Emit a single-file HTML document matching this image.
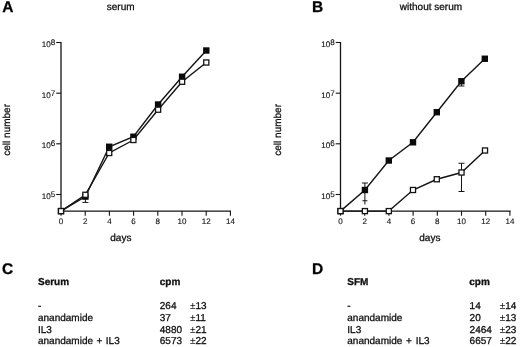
<!DOCTYPE html>
<html><head><meta charset="utf-8"><title>Figure</title>
<style>
html,body{margin:0;padding:0;background:#fff;}
body{width:520px;height:347px;overflow:hidden;font-family:"Liberation Sans",sans-serif;}
svg{display:block;filter:blur(0.28px);}
svg text{font-family:"Liberation Sans",sans-serif;fill:#111;stroke:#111;stroke-width:0.3px;text-rendering:geometricPrecision;}
</style></head>
<body>
<svg width="520" height="347" viewBox="0 0 520 347">
<rect x="0" y="0" width="520" height="347" fill="#ffffff"/>
<line x1="61.00" y1="42.00" x2="61.00" y2="211.70" stroke="#141414" stroke-width="1.3"/>
<line x1="60.40" y1="211.10" x2="231.00" y2="211.10" stroke="#141414" stroke-width="1.3"/>
<line x1="56.20" y1="42.50" x2="61.00" y2="42.50" stroke="#141414" stroke-width="1.1"/>
<line x1="56.20" y1="93.20" x2="61.00" y2="93.20" stroke="#141414" stroke-width="1.1"/>
<line x1="56.20" y1="143.80" x2="61.00" y2="143.80" stroke="#141414" stroke-width="1.1"/>
<line x1="56.20" y1="194.50" x2="61.00" y2="194.50" stroke="#141414" stroke-width="1.1"/>
<line x1="61.00" y1="211.10" x2="61.00" y2="215.70" stroke="#141414" stroke-width="1.1"/>
<line x1="85.20" y1="211.10" x2="85.20" y2="215.70" stroke="#141414" stroke-width="1.1"/>
<line x1="109.40" y1="211.10" x2="109.40" y2="215.70" stroke="#141414" stroke-width="1.1"/>
<line x1="133.60" y1="211.10" x2="133.60" y2="215.70" stroke="#141414" stroke-width="1.1"/>
<line x1="157.80" y1="211.10" x2="157.80" y2="215.70" stroke="#141414" stroke-width="1.1"/>
<line x1="182.00" y1="211.10" x2="182.00" y2="215.70" stroke="#141414" stroke-width="1.1"/>
<line x1="206.20" y1="211.10" x2="206.20" y2="215.70" stroke="#141414" stroke-width="1.1"/>
<line x1="230.40" y1="211.10" x2="230.40" y2="215.70" stroke="#141414" stroke-width="1.1"/>
<line x1="340.50" y1="42.00" x2="340.50" y2="211.70" stroke="#141414" stroke-width="1.3"/>
<line x1="339.90" y1="211.10" x2="510.50" y2="211.10" stroke="#141414" stroke-width="1.3"/>
<line x1="335.70" y1="42.50" x2="340.50" y2="42.50" stroke="#141414" stroke-width="1.1"/>
<line x1="335.70" y1="93.20" x2="340.50" y2="93.20" stroke="#141414" stroke-width="1.1"/>
<line x1="335.70" y1="143.80" x2="340.50" y2="143.80" stroke="#141414" stroke-width="1.1"/>
<line x1="335.70" y1="194.50" x2="340.50" y2="194.50" stroke="#141414" stroke-width="1.1"/>
<line x1="340.50" y1="211.10" x2="340.50" y2="215.70" stroke="#141414" stroke-width="1.1"/>
<line x1="364.70" y1="211.10" x2="364.70" y2="215.70" stroke="#141414" stroke-width="1.1"/>
<line x1="388.90" y1="211.10" x2="388.90" y2="215.70" stroke="#141414" stroke-width="1.1"/>
<line x1="413.10" y1="211.10" x2="413.10" y2="215.70" stroke="#141414" stroke-width="1.1"/>
<line x1="437.30" y1="211.10" x2="437.30" y2="215.70" stroke="#141414" stroke-width="1.1"/>
<line x1="461.50" y1="211.10" x2="461.50" y2="215.70" stroke="#141414" stroke-width="1.1"/>
<line x1="485.70" y1="211.10" x2="485.70" y2="215.70" stroke="#141414" stroke-width="1.1"/>
<line x1="509.90" y1="211.10" x2="509.90" y2="215.70" stroke="#141414" stroke-width="1.1"/>
<line x1="85.40" y1="196.60" x2="85.40" y2="202.40" stroke="#141414" stroke-width="1.0"/>
<line x1="82.40" y1="202.40" x2="88.40" y2="202.40" stroke="#141414" stroke-width="1.0"/>
<polyline points="61.00,211.10 85.40,196.60 109.20,146.75 133.40,136.75 158.10,104.50 182.10,76.75 206.30,50.50" fill="none" stroke="#141414" stroke-width="1.4"/>
<polyline points="61.00,211.10 85.40,194.80 109.20,153.00 133.40,140.00 158.10,109.70 182.10,81.75 206.30,62.50" fill="none" stroke="#141414" stroke-width="1.4"/>
<rect x="57.80" y="207.90" width="6.4" height="6.4" fill="#0a0a0a"/>
<rect x="82.20" y="193.40" width="6.4" height="6.4" fill="#0a0a0a"/>
<rect x="106.00" y="143.55" width="6.4" height="6.4" fill="#0a0a0a"/>
<rect x="130.20" y="133.55" width="6.4" height="6.4" fill="#0a0a0a"/>
<rect x="154.90" y="101.30" width="6.4" height="6.4" fill="#0a0a0a"/>
<rect x="178.90" y="73.55" width="6.4" height="6.4" fill="#0a0a0a"/>
<rect x="203.10" y="47.30" width="6.4" height="6.4" fill="#0a0a0a"/>
<rect x="58.45" y="208.55" width="5.1" height="5.1" fill="#fff" stroke="#141414" stroke-width="1.3"/>
<rect x="82.85" y="192.25" width="5.1" height="5.1" fill="#fff" stroke="#141414" stroke-width="1.3"/>
<rect x="106.65" y="150.45" width="5.1" height="5.1" fill="#fff" stroke="#141414" stroke-width="1.3"/>
<rect x="130.85" y="137.45" width="5.1" height="5.1" fill="#fff" stroke="#141414" stroke-width="1.3"/>
<rect x="155.55" y="107.15" width="5.1" height="5.1" fill="#fff" stroke="#141414" stroke-width="1.3"/>
<rect x="179.55" y="79.20" width="5.1" height="5.1" fill="#fff" stroke="#141414" stroke-width="1.3"/>
<rect x="203.75" y="59.95" width="5.1" height="5.1" fill="#fff" stroke="#141414" stroke-width="1.3"/>
<line x1="364.90" y1="183.00" x2="364.90" y2="190.00" stroke="#141414" stroke-width="1.0"/>
<line x1="361.90" y1="183.00" x2="367.90" y2="183.00" stroke="#141414" stroke-width="1.0"/>
<line x1="364.90" y1="190.00" x2="364.90" y2="204.50" stroke="#141414" stroke-width="1.0"/>
<line x1="362.40" y1="200.75" x2="367.40" y2="200.75" stroke="#141414" stroke-width="1.0"/>
<line x1="461.40" y1="81.25" x2="461.40" y2="86.00" stroke="#141414" stroke-width="1.0"/>
<line x1="458.40" y1="86.00" x2="464.40" y2="86.00" stroke="#141414" stroke-width="1.0"/>
<line x1="461.50" y1="163.25" x2="461.50" y2="191.50" stroke="#141414" stroke-width="1.0"/>
<line x1="458.50" y1="163.25" x2="464.50" y2="163.25" stroke="#141414" stroke-width="1.0"/>
<line x1="458.50" y1="191.50" x2="464.50" y2="191.50" stroke="#141414" stroke-width="1.0"/>
<polyline points="340.50,211.10 364.90,190.00 388.80,160.50 413.00,142.30 436.80,112.20 461.40,81.25 484.80,58.75" fill="none" stroke="#141414" stroke-width="1.4"/>
<polyline points="340.50,211.10 364.90,211.10 388.80,211.10 413.00,190.00 436.80,179.25 461.50,172.50 485.00,150.50" fill="none" stroke="#141414" stroke-width="1.4"/>
<rect x="337.30" y="207.90" width="6.4" height="6.4" fill="#0a0a0a"/>
<rect x="361.70" y="186.80" width="6.4" height="6.4" fill="#0a0a0a"/>
<rect x="385.60" y="157.30" width="6.4" height="6.4" fill="#0a0a0a"/>
<rect x="409.80" y="139.10" width="6.4" height="6.4" fill="#0a0a0a"/>
<rect x="433.60" y="109.00" width="6.4" height="6.4" fill="#0a0a0a"/>
<rect x="458.20" y="78.05" width="6.4" height="6.4" fill="#0a0a0a"/>
<rect x="481.60" y="55.55" width="6.4" height="6.4" fill="#0a0a0a"/>
<rect x="337.95" y="208.55" width="5.1" height="5.1" fill="#fff" stroke="#141414" stroke-width="1.3"/>
<rect x="362.35" y="208.55" width="5.1" height="5.1" fill="#fff" stroke="#141414" stroke-width="1.3"/>
<rect x="386.25" y="208.55" width="5.1" height="5.1" fill="#fff" stroke="#141414" stroke-width="1.3"/>
<rect x="410.45" y="187.45" width="5.1" height="5.1" fill="#fff" stroke="#141414" stroke-width="1.3"/>
<rect x="434.25" y="176.70" width="5.1" height="5.1" fill="#fff" stroke="#141414" stroke-width="1.3"/>
<rect x="458.95" y="169.95" width="5.1" height="5.1" fill="#fff" stroke="#141414" stroke-width="1.3"/>
<rect x="482.45" y="147.95" width="5.1" height="5.1" fill="#fff" stroke="#141414" stroke-width="1.3"/>
<text x="2.3" y="12.15" font-size="15.5" font-weight="bold" stroke="#000" stroke-width="0.35" style="fill:#000">A</text>
<text x="311.9" y="12.15" font-size="15.5" font-weight="bold" stroke="#000" stroke-width="0.35" style="fill:#000">B</text>
<text x="1.9" y="274.2" font-size="15.5" font-weight="bold" stroke="#000" stroke-width="0.35" style="fill:#000">C</text>
<text x="311.9" y="274.2" font-size="15.5" font-weight="bold" stroke="#000" stroke-width="0.35" style="fill:#000">D</text>
<text x="106.8" y="10.1" font-size="10" font-weight="normal" text-anchor="start" >serum</text>
<text x="399.8" y="10.1" font-size="10" font-weight="normal" text-anchor="start" >without serum</text>
<text x="110.3" y="240.8" font-size="10" font-weight="normal" text-anchor="start" >days</text>
<text x="419.3" y="240.8" font-size="10" font-weight="normal" text-anchor="start" >days</text>
<text transform="translate(9.8,155.7) rotate(-90)" font-size="10">cell number</text>
<text transform="translate(281.0,155.7) rotate(-90)" font-size="10">cell number</text>
<text x="41.8" y="46.8" font-size="8.1" font-weight="normal" text-anchor="start" style="stroke-width:0.12px">10</text>
<text x="50.8" y="45.0" font-size="8.1" font-weight="normal" text-anchor="start" style="stroke-width:0.12px">8</text>
<text x="41.8" y="97.5" font-size="8.1" font-weight="normal" text-anchor="start" style="stroke-width:0.12px">10</text>
<text x="50.8" y="95.7" font-size="8.1" font-weight="normal" text-anchor="start" style="stroke-width:0.12px">7</text>
<text x="41.8" y="148.10000000000002" font-size="8.1" font-weight="normal" text-anchor="start" style="stroke-width:0.12px">10</text>
<text x="50.8" y="146.3" font-size="8.1" font-weight="normal" text-anchor="start" style="stroke-width:0.12px">6</text>
<text x="41.8" y="198.8" font-size="8.1" font-weight="normal" text-anchor="start" style="stroke-width:0.12px">10</text>
<text x="50.8" y="197.0" font-size="8.1" font-weight="normal" text-anchor="start" style="stroke-width:0.12px">5</text>
<text x="61.0" y="224" font-size="8.0" font-weight="normal" text-anchor="middle" style="stroke-width:0.12px">0</text>
<text x="85.2" y="224" font-size="8.0" font-weight="normal" text-anchor="middle" style="stroke-width:0.12px">2</text>
<text x="109.4" y="224" font-size="8.0" font-weight="normal" text-anchor="middle" style="stroke-width:0.12px">4</text>
<text x="133.6" y="224" font-size="8.0" font-weight="normal" text-anchor="middle" style="stroke-width:0.12px">6</text>
<text x="157.8" y="224" font-size="8.0" font-weight="normal" text-anchor="middle" style="stroke-width:0.12px">8</text>
<text x="182.0" y="224" font-size="8.0" font-weight="normal" text-anchor="middle" style="stroke-width:0.12px">10</text>
<text x="206.2" y="224" font-size="8.0" font-weight="normal" text-anchor="middle" style="stroke-width:0.12px">12</text>
<text x="230.4" y="224" font-size="8.0" font-weight="normal" text-anchor="middle" style="stroke-width:0.12px">14</text>
<text x="321.3" y="46.8" font-size="8.1" font-weight="normal" text-anchor="start" style="stroke-width:0.12px">10</text>
<text x="330.3" y="45.0" font-size="8.1" font-weight="normal" text-anchor="start" style="stroke-width:0.12px">8</text>
<text x="321.3" y="97.5" font-size="8.1" font-weight="normal" text-anchor="start" style="stroke-width:0.12px">10</text>
<text x="330.3" y="95.7" font-size="8.1" font-weight="normal" text-anchor="start" style="stroke-width:0.12px">7</text>
<text x="321.3" y="148.10000000000002" font-size="8.1" font-weight="normal" text-anchor="start" style="stroke-width:0.12px">10</text>
<text x="330.3" y="146.3" font-size="8.1" font-weight="normal" text-anchor="start" style="stroke-width:0.12px">6</text>
<text x="321.3" y="198.8" font-size="8.1" font-weight="normal" text-anchor="start" style="stroke-width:0.12px">10</text>
<text x="330.3" y="197.0" font-size="8.1" font-weight="normal" text-anchor="start" style="stroke-width:0.12px">5</text>
<text x="340.5" y="224" font-size="8.0" font-weight="normal" text-anchor="middle" style="stroke-width:0.12px">0</text>
<text x="364.7" y="224" font-size="8.0" font-weight="normal" text-anchor="middle" style="stroke-width:0.12px">2</text>
<text x="388.9" y="224" font-size="8.0" font-weight="normal" text-anchor="middle" style="stroke-width:0.12px">4</text>
<text x="413.1" y="224" font-size="8.0" font-weight="normal" text-anchor="middle" style="stroke-width:0.12px">6</text>
<text x="437.3" y="224" font-size="8.0" font-weight="normal" text-anchor="middle" style="stroke-width:0.12px">8</text>
<text x="461.5" y="224" font-size="8.0" font-weight="normal" text-anchor="middle" style="stroke-width:0.12px">10</text>
<text x="485.7" y="224" font-size="8.0" font-weight="normal" text-anchor="middle" style="stroke-width:0.12px">12</text>
<text x="509.9" y="224" font-size="8.0" font-weight="normal" text-anchor="middle" style="stroke-width:0.12px">14</text>
<text x="38" y="285.1" font-size="10" font-weight="bold" text-anchor="start" >Serum</text>
<text x="159.8" y="285.1" font-size="10" font-weight="bold" text-anchor="start" >cpm</text>
<text x="38" y="308.7" font-size="10" font-weight="normal" text-anchor="start" word-spacing="0.7">-</text>
<text x="159.8" y="308.7" font-size="10" font-weight="normal" text-anchor="start" >264</text>
<text x="190" y="308.7" font-size="10" font-weight="normal" text-anchor="start" ><tspan style="stroke-width:0.05px">±</tspan>13</text>
<text x="38" y="320.6" font-size="10" font-weight="normal" text-anchor="start" word-spacing="0.7">anandamide</text>
<text x="159.8" y="320.6" font-size="10" font-weight="normal" text-anchor="start" >37</text>
<text x="190" y="320.6" font-size="10" font-weight="normal" text-anchor="start" ><tspan style="stroke-width:0.05px">±</tspan>11</text>
<text x="38" y="332.5" font-size="10" font-weight="normal" text-anchor="start" word-spacing="0.7">IL3</text>
<text x="159.8" y="332.5" font-size="10" font-weight="normal" text-anchor="start" >4880</text>
<text x="190" y="332.5" font-size="10" font-weight="normal" text-anchor="start" ><tspan style="stroke-width:0.05px">±</tspan>21</text>
<text x="38" y="344.3" font-size="10" font-weight="normal" text-anchor="start" word-spacing="0.7">anandamide + IL3</text>
<text x="159.8" y="344.3" font-size="10" font-weight="normal" text-anchor="start" >6573</text>
<text x="190" y="344.3" font-size="10" font-weight="normal" text-anchor="start" ><tspan style="stroke-width:0.05px">±</tspan>22</text>
<text x="347.3" y="285.1" font-size="10" font-weight="bold" text-anchor="start" >SFM</text>
<text x="469.3" y="285.1" font-size="10" font-weight="bold" text-anchor="start" >cpm</text>
<text x="347.3" y="308.7" font-size="10" font-weight="normal" text-anchor="start" word-spacing="1">-</text>
<text x="469.6" y="308.7" font-size="10" font-weight="normal" text-anchor="start" >14</text>
<text x="499.8" y="308.7" font-size="10" font-weight="normal" text-anchor="start" ><tspan style="stroke-width:0.05px">±</tspan>14</text>
<text x="347.3" y="320.6" font-size="10" font-weight="normal" text-anchor="start" word-spacing="1">anandamide</text>
<text x="469.6" y="320.6" font-size="10" font-weight="normal" text-anchor="start" >20</text>
<text x="499.8" y="320.6" font-size="10" font-weight="normal" text-anchor="start" ><tspan style="stroke-width:0.05px">±</tspan>13</text>
<text x="347.3" y="332.5" font-size="10" font-weight="normal" text-anchor="start" word-spacing="1">IL3</text>
<text x="469.6" y="332.5" font-size="10" font-weight="normal" text-anchor="start" >2464</text>
<text x="499.8" y="332.5" font-size="10" font-weight="normal" text-anchor="start" ><tspan style="stroke-width:0.05px">±</tspan>23</text>
<text x="347.3" y="344.3" font-size="10" font-weight="normal" text-anchor="start" word-spacing="1">anandamide + IL3</text>
<text x="469.6" y="344.3" font-size="10" font-weight="normal" text-anchor="start" >6657</text>
<text x="499.8" y="344.3" font-size="10" font-weight="normal" text-anchor="start" ><tspan style="stroke-width:0.05px">±</tspan>22</text>
</svg>
</body></html>
